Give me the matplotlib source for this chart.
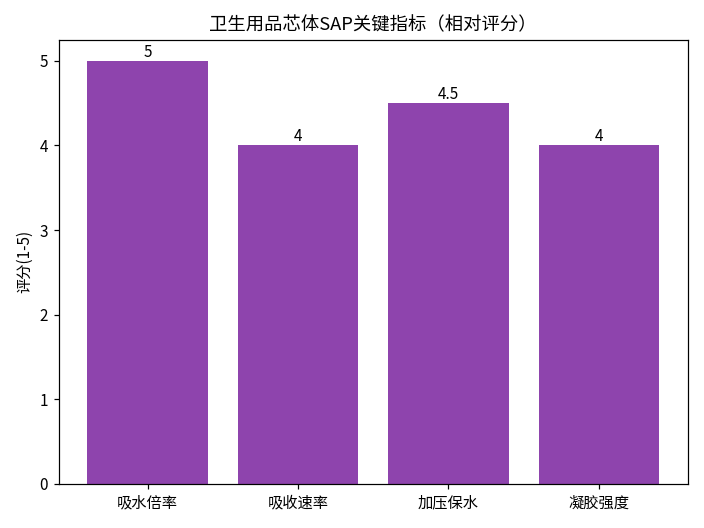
import matplotlib
matplotlib.use("Agg")
import matplotlib.pyplot as plt

plt.rcParams['font.family'] = ['Noto Sans CJK SC', 'DejaVu Sans']
plt.rcParams['axes.unicode_minus'] = False

categories = ['吸水倍率', '吸收速率', '加压保水', '凝胶强度']
scores = [5, 4, 4.5, 4]
labels = ['5', '4', '4.5', '4']

fig, ax = plt.subplots(figsize=(6.4, 4.8), dpi=110)
bars = ax.bar(categories, scores, color='#8E44AD')
ax.bar_label(bars, labels=labels)
ax.set_title('卫生用品芯体SAP关键指标（相对评分）')
ax.set_ylabel('评分(1-5)')
fig.tight_layout()
fig.savefig('out.png')
